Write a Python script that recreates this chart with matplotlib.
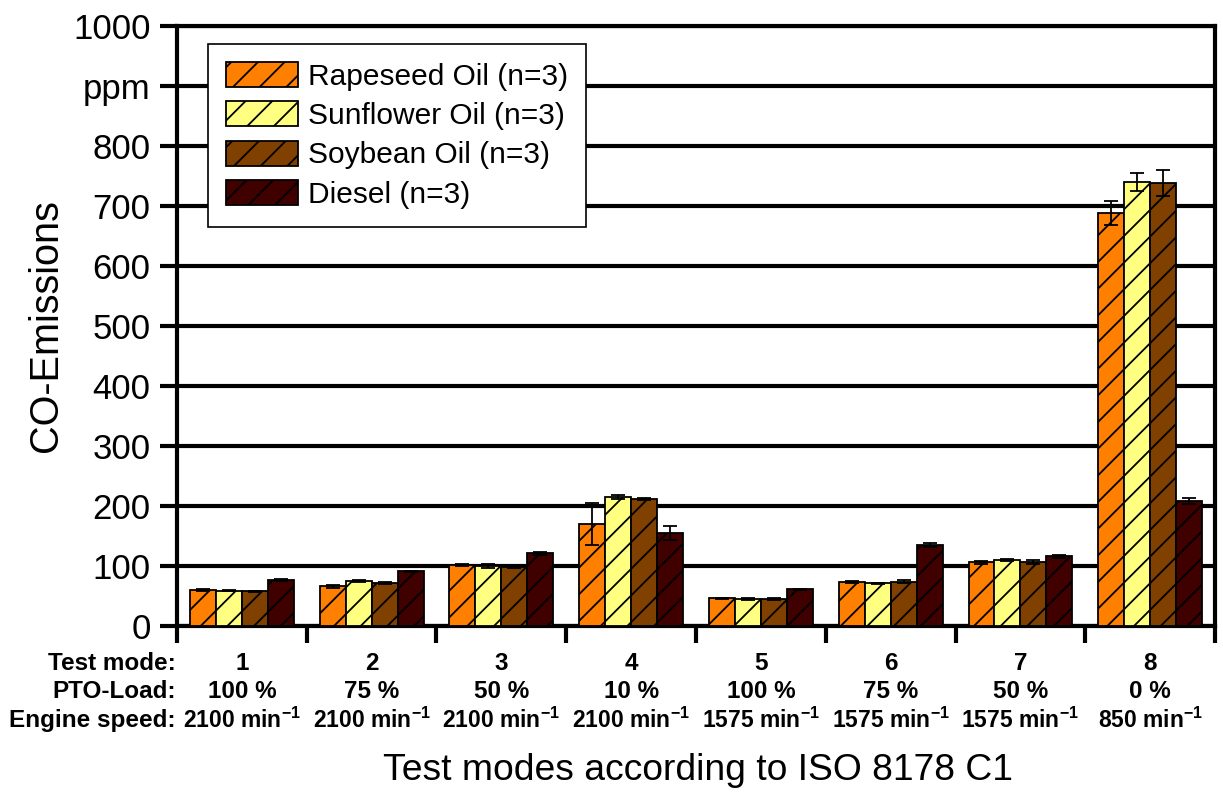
import numpy as np
import matplotlib
matplotlib.use("Agg")
import matplotlib.pyplot as plt
import matplotlib.transforms as mtransforms

# figure is drawn at 80 dpi so that the "/" hatch gets the spacing of the original;
# P converts sizes worked out at 100 dpi
DPI = 80
P = 100 / DPI

plt.rcParams['font.family'] = ['Liberation Sans', 'DejaVu Sans']
plt.rcParams['mathtext.default'] = 'regular'
plt.rcParams['hatch.linewidth'] = 1.3 * P

#%%
"""
Data read off the chart
"""
modes = ["1", "2", "3", "4", "5", "6", "7", "8"]
pto_load = ["100 %", "75 %", "50 %", "10 %", "100 %", "75 %", "50 %", "0 %"]
speed = ["2100", "2100", "2100", "2100", "1575", "1575", "1575", "850"]

series = ["Rapeseed Oil (n=3)", "Sunflower Oil (n=3)", "Soybean Oil (n=3)", "Diesel (n=3)"]
colors = ["#FF8000", "#FFFF80", "#804000", "#400000"]

rapeseed = [60, 66, 102, 170, 46, 73, 106, 688]
sunflower = [59, 75, 100, 215, 45, 71, 110, 740]
soybean = [58, 72, 99, 212, 45, 74, 107, 738]
diesel = [77, 91, 121, 155, 61, 135, 116, 208]

rapeseed_err = [2, 2, 2, 35, 1, 2, 2, 20]
sunflower_err = [1, 2, 4, 3, 1, 1, 1, 15]
soybean_err = [1, 2, 2, 2, 1, 3, 3, 22]
diesel_err = [2, 1, 2, 12, 1, 3, 2, 5]

values = [rapeseed, sunflower, soybean, diesel]
errors = [rapeseed_err, sunflower_err, soybean_err, diesel_err]

#%%
fig = plt.figure(figsize=(1223 / DPI, 792 / DPI), dpi=DPI)
ax = fig.add_axes([0.1447, 0.2096, 0.8488, 0.7576])

x = np.arange(1, len(modes) + 1)
width = 0.2
for k in range(4):
    ax.bar(x + (k - 1.5) * width, values[k], width, color=colors[k],
           edgecolor="black", linewidth=1.3 * P, hatch="/", label=series[k],
           yerr=errors[k], error_kw=dict(ecolor="black", elinewidth=1.3 * P,
                                         capsize=5 * P, capthick=1.3 * P), zorder=3)

ax.set_xlim(0.5, len(modes) + 0.5)
ax.set_ylim(0, 1000)
yt = np.arange(0, 1001, 100)
ax.set_yticks(yt)
ax.set_yticklabels([("ppm" if v == 900 else str(v)) for v in yt], fontsize=25 * P)
ax.yaxis.grid(True, color="black", linewidth=3 * P, zorder=0)
ax.set_axisbelow(True)

ax.set_xticks(np.arange(0.5, len(modes) + 1, 1.0))
ax.set_xticklabels([])
ax.tick_params(axis="x", direction="out", length=12 * P, width=3 * P)
ax.tick_params(axis="y", direction="out", length=12 * P, width=3 * P, pad=7 * P)

for s in ["left", "bottom", "right", "top"]:
    ax.spines[s].set_linewidth(3 * P)

ax.set_ylabel("CO-Emissions", fontsize=28.5 * P, labelpad=6 * P)

# row labels under the axis
trans = mtransforms.blended_transform_factory(ax.transData, fig.transFigure)
rows_y = [1 - 663 / 792, 1 - 692 / 792, 1 - 720 / 792]
row_names = ["Test mode:", "PTO-Load:", "Engine speed:"]
for yy, name in zip(rows_y, row_names):
    fig.text(176 / 1223, yy, name, ha="right", va="center", fontsize=17.5 * P,
             fontweight="bold")
for i in range(len(modes)):
    ax.text(x[i], rows_y[0], modes[i], transform=trans, ha="center", va="center",
            fontsize=17.5 * P, fontweight="bold")
    ax.text(x[i], rows_y[1], pto_load[i], transform=trans, ha="center", va="center",
            fontsize=17.5 * P, fontweight="bold")
    ax.text(x[i], rows_y[2], speed[i] + " min$^{-1}$", transform=trans, ha="center",
            va="center", fontsize=16.5 * P, fontweight="bold")

fig.text(698 / 1223, 1 - 771 / 792, "Test modes according to ISO 8178 C1", ha="center",
         va="center", fontsize=26.8 * P)

leg = ax.legend(loc="upper left", bbox_to_anchor=(0.030, 0.97), fontsize=21.5 * P,
                fancybox=False, edgecolor="black", framealpha=1,
                handlelength=2.4, handleheight=0.9, labelspacing=0.36,
                borderpad=0.6, borderaxespad=0, handletextpad=0.35)
leg.get_frame().set_linewidth(1.2 * P)
leg.set_zorder(5)

fig.savefig("out.png", dpi=DPI)
